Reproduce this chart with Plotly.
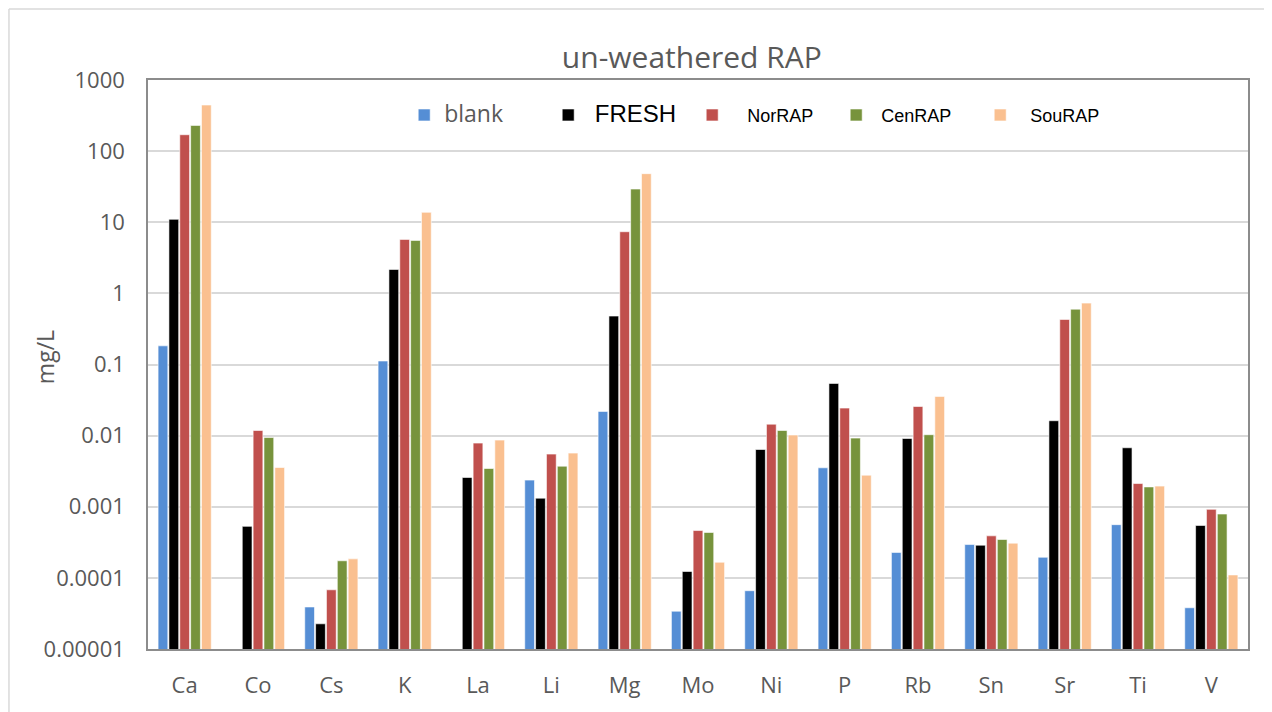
import plotly.graph_objects as go

categories = ["Ca", "Co", "Cs", "K", "La", "Li", "Mg", "Mo", "Ni", "P", "Rb", "Sn", "Sr", "Ti", "V"]

blank = [0.183, 0.00001, 3.9e-5, 0.112, 0.00001, 0.00237, 0.0219, 3.4e-5, 6.6e-5, 0.00353, 2.28e-4, 2.94e-4, 1.95e-4, 5.6e-4, 3.8e-5]
fresh = [11.0, 5.3e-4, 2.26e-5, 2.17, 0.00258, 0.00132, 0.48, 1.23e-4, 0.00638, 0.0542, 0.00912, 2.88e-4, 0.0162, 0.00675, 5.46e-4]
norrap = [170, 0.0118, 6.8e-5, 5.74, 0.00785, 0.0055, 7.36, 4.63e-4, 0.0145, 0.0244, 0.0257, 3.9e-4, 0.43, 0.00212, 9.2e-4]
cenrap = [230, 0.0094, 1.74e-4, 5.56, 0.00345, 0.00372, 29.3, 4.35e-4, 0.0118, 0.00923, 0.0103, 3.46e-4, 0.60, 0.0019, 7.9e-4]
sourap = [445, 0.00356, 1.85e-4, 13.8, 0.00865, 0.00568, 48.2, 1.66e-4, 0.0102, 0.00278, 0.0356, 3.08e-4, 0.73, 0.00195, 1.1e-4]

y_tickvals = [1000, 100, 10, 1, 0.1, 0.01, 0.001, 0.0001, 0.00001]
y_ticktext = ["1000", "100", "10", "1", "0.1", "0.01", "0.001", "0.0001", "0.00001"]

series = [
    ("<span style='font-family:Open Sans;font-size:23px;color:#595959'>blank</span>", blank, "#558ED5"),
    ("<span style='font-family:Liberation Sans;font-size:24px;color:#000000'>\u00a0FRESH</span>", fresh, "#000000"),
    ("<span style='font-family:Liberation Sans;font-size:18px;color:#000000'>\u00a0\u00a0\u00a0NorRAP</span>", norrap, "#C0504D"),
    ("<span style='font-family:Liberation Sans;font-size:18px;color:#000000'>\u00a0CenRAP</span>", cenrap, "#77933C"),
    ("<span style='font-family:Liberation Sans;font-size:18px;color:#000000'>\u00a0\u00a0SouRAP</span>", sourap, "#FAC090"),
]

fig = go.Figure()
for name, vals, color in series:
    fig.add_trace(go.Bar(
        x=categories, y=vals, name=name,
        marker=dict(color=color, line=dict(color="white", width=0.6)),
    ))

fig.update_layout(
    width=1264, height=704,
    margin=dict(l=140, r=24, t=72, b=63),
    paper_bgcolor="white", plot_bgcolor="white",
    barmode="group", bargap=0.26, bargroupgap=0.1,
    font=dict(family="Open Sans", color="#595959"),
    title=dict(text="un-weathered RAP", x=0.541, xanchor="center", y=0.93, yanchor="middle",
               font=dict(family="Open Sans", size=30, color="#595959")),
    legend=dict(orientation="h", x=0.2329, xanchor="left", y=0.938, yanchor="middle",
                bgcolor="rgba(0,0,0,0)", entrywidth=99, entrywidthmode="pixels",
                font=dict(size=18), itemclick=False),
    showlegend=True,
)

fig.update_xaxes(
    showline=True, linecolor="#8c8c8c", linewidth=1.5, mirror=True,
    tickfont=dict(family="Open Sans", size=22, color="#595959"),
    ticklabelstandoff=16, showgrid=False,
)
fig.update_yaxes(
    type="log", range=[-5, 3],
    tickvals=y_tickvals, ticktext=y_ticktext,
    showline=True, linecolor="#8c8c8c", linewidth=1.5, mirror=True,
    gridcolor="#d9d9d9", gridwidth=1.5,
    tickfont=dict(family="Open Sans", size=22, color="#595959"),
    ticklabelstandoff=17, zeroline=False,
)

fig.add_annotation(text="mg/L", xref="paper", yref="paper", x=-0.0936, y=0.513,
                   xanchor="center", yanchor="middle",
                   textangle=-90, showarrow=False, font=dict(family="Open Sans", size=23, color="#595959"))

# outer chart-area border (left and top edges)
fig.add_shape(type="line", xref="paper", yref="paper", x0=-0.1264, x1=-0.1264, y0=-0.111, y1=1.1248,
              line=dict(color="#d9d9d9", width=1.5))
fig.add_shape(type="line", xref="paper", yref="paper", x0=-0.1264, x1=1.03, y0=1.1248, y1=1.1248,
              line=dict(color="#d9d9d9", width=1.5))

fig.write_html("out.html")
